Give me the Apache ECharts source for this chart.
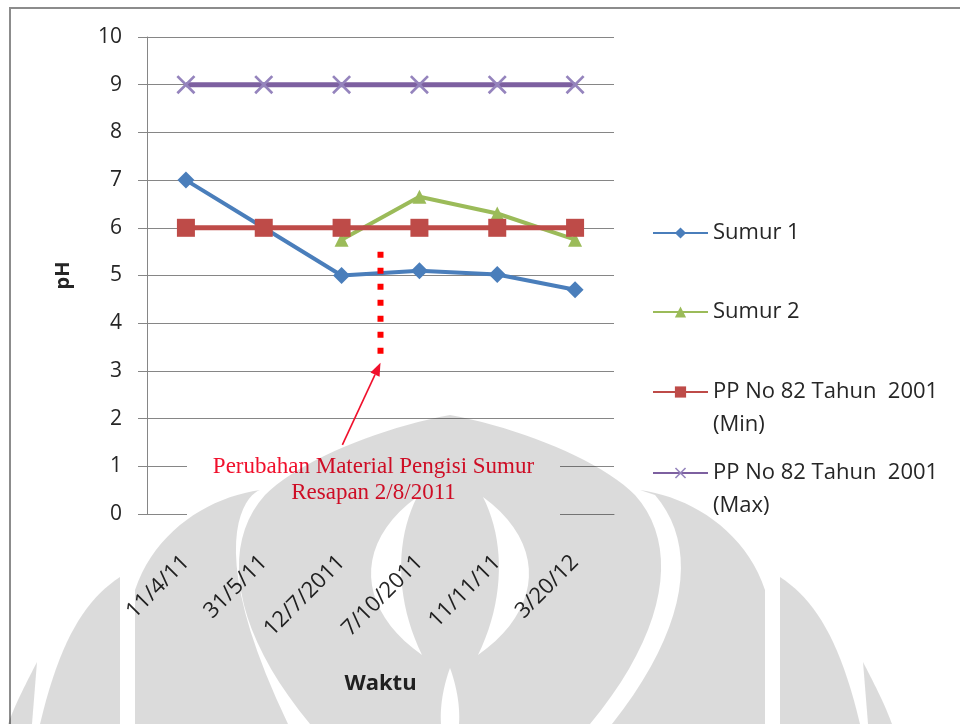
<!DOCTYPE html>
<html>
<head>
<meta charset="utf-8">
<script src="https://cdn.jsdelivr.net/npm/echarts@6/dist/echarts.min.js"></script>
<style>
  html, body { margin: 0; padding: 0; background: #ffffff; }
  #chart { width: 960px; height: 724px; }
</style>
</head>
<body>
<div id="chart"></div>
<script>
// Sampling dates (x axis categories)
const categories = ['11/4/11', '31/5/11', '12/7/2011', '7/10/2011', '11/11/11', '3/20/12'];

// pH readings per well
const sumur1 = [7.0, 6.0, 5.0, 5.1, 5.02, 4.7];
const sumur2 = [null, null, 5.75, 6.65, 6.3, 5.75];

// Regulation PP No 82 Tahun 2001 limits
const ppMin = [6, 6, 6, 6, 6, 6];
const ppMax = [9, 9, 9, 9, 9, 9];

// Value axis range and step
const yRange = { min: 0, max: 10, interval: 1 };

const seriesNames = [
  'Sumur 1',
  'Sumur 2',
  'PP No 82 Tahun  2001\n(Min)',
  'PP No 82 Tahun  2001\n(Max)'
];

// Note about the change of filling material (2/8/2011, between the 3rd and 4th visits)
const noteLines = ['Perubahan Material Pengisi Sumur', 'Resapan 2/8/2011'];
const noteMarker = { between: [2, 3], top: 5.5, bottom: 3.3 };
const noteArrow = { tail: [2.01, 1.45], head: [2.5, 3.17] };

const FONT = '"Open Sans", Lato, sans-serif';
const SERIF = '"Liberation Serif", "Times New Roman", serif';
const TXT = '#262626';
const AX = '#868686';
const NOTE_RED = '#f0102c';

const xCross = 'path://M0,1 L1,0 L10,9 L9,10 Z M9,0 L10,1 L1,10 L0,9 Z';

const chart = echarts.init(document.getElementById('chart'), null, { renderer: 'canvas' });

// one legend block per series so each row sits at its own height;
// two-line names get an empty leading line so the first line lines up with the icon
function legendFor(name, iconY, twoLines) {
  const lh = 33;
  const blockH = twoLines ? lh * 3 : lh;
  return {
    data: [name],
    orient: 'vertical',
    left: 652,
    top: iconY - blockH / 2,
    padding: 0,
    itemWidth: 55,
    itemHeight: 14,
    selectedMode: false,
    formatter: twoLines ? (n) => '\n' + n : '{name}',
    textStyle: {
      fontFamily: FONT,
      fontSize: 22,
      color: TXT,
      lineHeight: lh
    }
  };
}

const option = {
  backgroundColor: '#ffffff',
  animation: false,
  grid: { left: 147, right: 346, top: 37, bottom: 210, containLabel: false },
  legend: [
    legendFor(seriesNames[0], 233, false),
    legendFor(seriesNames[1], 312, false),
    legendFor(seriesNames[2], 392, true),
    legendFor(seriesNames[3], 473, true)
  ],
  xAxis: {
    type: 'category',
    data: categories,
    boundaryGap: true,
    name: 'Waktu',
    nameLocation: 'middle',
    nameGap: 159,
    nameTextStyle: { fontFamily: FONT, fontSize: 22, fontWeight: 'bold', color: TXT },
    axisLine: { show: true, lineStyle: { color: AX, width: 1 } },
    axisTick: { show: false },
    axisLabel: { rotate: 45, margin: 45, fontFamily: FONT, fontSize: 22, color: TXT, interval: 0 },
    splitLine: { show: false }
  },
  yAxis: {
    type: 'value',
    min: yRange.min,
    max: yRange.max,
    interval: yRange.interval,
    name: 'pH',
    nameLocation: 'middle',
    nameGap: 74,
    nameTextStyle: { fontFamily: FONT, fontSize: 20, fontWeight: 'bold', color: TXT },
    axisLine: { show: true, lineStyle: { color: AX, width: 1 } },
    axisTick: { show: true, inside: false, length: 9, lineStyle: { color: AX, width: 1 } },
    axisLabel: { margin: 25, fontFamily: FONT, fontSize: 21, color: TXT },
    splitLine: { show: true, lineStyle: { color: AX, width: 1 } }
  },
  series: [
    {
      name: seriesNames[0],
      type: 'line',
      data: sumur1,
      symbol: 'diamond',
      symbolSize: 17,
      lineStyle: { color: '#4a7ebb', width: 4 },
      itemStyle: { color: '#4a7ebb' },
      z: 2
    },
    {
      name: seriesNames[1],
      type: 'line',
      data: sumur2,
      connectNulls: false,
      symbol: 'triangle',
      symbolSize: 14,
      lineStyle: { color: '#9bbb59', width: 4 },
      itemStyle: { color: '#9bbb59' },
      z: 3
    },
    {
      name: seriesNames[2],
      type: 'line',
      data: ppMin,
      symbol: 'rect',
      symbolSize: 18,
      lineStyle: { color: '#be4b48', width: 5 },
      itemStyle: { color: '#be4b48' },
      z: 4
    },
    {
      name: seriesNames[3],
      type: 'line',
      data: ppMax,
      symbol: xCross,
      symbolSize: 19,
      lineStyle: { color: '#7d60a0', width: 5 },
      itemStyle: { color: '#9584bd' },
      z: 5
    }
  ]
};

chart.setOption(option);

// Pixel helpers on the chart's own scales
function px(catIndex, value) {
  const i0 = Math.floor(catIndex);
  const i1 = Math.min(i0 + 1, categories.length - 1);
  const p0 = chart.convertToPixel({ xAxisIndex: 0, yAxisIndex: 0 }, [i0, value]);
  const p1 = chart.convertToPixel({ xAxisIndex: 0, yAxisIndex: 0 }, [i1, value]);
  const t = catIndex - i0;
  return [p0[0] + (p1[0] - p0[0]) * t, p0[1]];
}

const midCat = (noteMarker.between[0] + noteMarker.between[1]) / 2;
const lineTop = px(midCat, noteMarker.top);
const lineBot = px(midCat, noteMarker.bottom);
const aTail = px(noteArrow.tail[0], noteArrow.tail[1]);
const aHead = px(noteArrow.head[0], noteArrow.head[1]);

// arrowhead triangle
const ang = Math.atan2(aHead[1] - aTail[1], aHead[0] - aTail[0]);
const hl = 13, hw = 5;
const bx = aHead[0] - hl * Math.cos(ang), by = aHead[1] - hl * Math.sin(ang);
const headPts = [
  aHead,
  [bx + hw * Math.sin(ang), by - hw * Math.cos(ang)],
  [bx - hw * Math.sin(ang), by + hw * Math.cos(ang)]
];

// Makara watermark outline (page pixels), flattened into polygons below
const domeOuter = 'M450,415 C520,428 600,460 635,495 C680,545 668,630 590,724 L310,724 C232,630 220,545 265,495 C300,460 380,428 450,415 Z';
const domeHoles = [
  'M483,497 C505,540 505,600 478,655 C542,610 548,545 483,497 Z',
  'M417,497 C352,545 358,610 422,655 C395,600 395,540 417,497 Z',
  'M450,668 C442,690 440,710 441,724 L459,724 C460,710 458,690 450,668 Z'
];
const petals = [
  'M640,490 C690,497 745,530 765,590 L765,724 L612,724 C690,625 698,545 655,495 Z',
  'M260,490 C245,495 202,545 288,724 L135,724 L135,590 C155,530 210,497 260,490 Z',
  'M780,577 C815,600 840,640 860,724 L780,724 Z',
  'M120,577 L120,724 L40,724 C60,640 85,600 120,577 Z',
  'M863,662 C875,685 885,705 892,724 L868,724 Z',
  'M37,662 L32,724 L8,724 C15,705 25,685 37,662 Z'
];

function flatten(d) {
  const tok = d.match(/[MCLZ]|-?\d+(?:\.\d+)?/g);
  const pts = [];
  let cmd = null, cur = null, i = 0;
  while (i < tok.length) {
    const t = tok[i];
    if (/[MCLZ]/.test(t)) { cmd = t; i++; continue; }
    if (cmd === 'M' || cmd === 'L') {
      cur = [+tok[i], +tok[i + 1]];
      pts.push(cur);
      i += 2;
    } else if (cmd === 'C') {
      const c1 = [+tok[i], +tok[i + 1]], c2 = [+tok[i + 2], +tok[i + 3]], e = [+tok[i + 4], +tok[i + 5]];
      for (let k = 1; k <= 20; k++) {
        const s = k / 20, u = 1 - s;
        pts.push([
          u * u * u * cur[0] + 3 * u * u * s * c1[0] + 3 * u * s * s * c2[0] + s * s * s * e[0],
          u * u * u * cur[1] + 3 * u * u * s * c1[1] + 3 * u * s * s * c2[1] + s * s * s * e[1]
        ]);
      }
      cur = e;
      i += 6;
    } else {
      i++;
    }
  }
  return pts;
}

// dome with its openings cut in (keyhole joins, holes run the opposite way)
const dome = flatten(domeOuter);
const domePts = dome.slice();
domeHoles.forEach((h) => {
  const hp = flatten(h);
  domePts.push(...hp, hp[0], dome[0]);
});

const WM = 'rgba(0,0,0,0.14)';
const watermarkEls = [domePts].concat(petals.map(flatten)).map((pts) => ({
  type: 'polygon',
  z: 50,
  shape: { points: pts },
  style: { fill: WM },
  silent: true
}));

chart.setOption({
  graphic: [
    {
      type: 'rect',
      z: 1,
      shape: { x: 10, y: 8, width: 1000, height: 800 },
      style: { fill: 'none', stroke: '#8c8c8c', lineWidth: 2 },
      silent: true
    },
    {
      type: 'rect',
      z: 6,
      shape: { x: 187, y: 445, width: 373, height: 77 },
      style: { fill: '#ffffff' },
      silent: true
    },
    {
      type: 'text',
      z: 7,
      x: lineTop[0] - 7,
      y: 467,
      style: {
        text: noteLines[0],
        fontFamily: SERIF,
        fontSize: 23,
        fill: NOTE_RED,
        align: 'center',
        verticalAlign: 'middle'
      },
      silent: true
    },
    {
      type: 'text',
      z: 7,
      x: lineTop[0] - 7,
      y: 493,
      style: {
        text: noteLines[1],
        fontFamily: SERIF,
        fontSize: 23,
        fill: NOTE_RED,
        align: 'center',
        verticalAlign: 'middle'
      },
      silent: true
    },
    {
      type: 'line',
      z: 7,
      shape: { x1: lineTop[0], y1: lineTop[1], x2: lineBot[0], y2: lineBot[1] },
      style: { stroke: '#ff0000', lineWidth: 6, lineDash: [6, 10] },
      silent: true
    },
    {
      type: 'line',
      z: 7,
      shape: { x1: aTail[0], y1: aTail[1], x2: bx, y2: by },
      style: { stroke: NOTE_RED, lineWidth: 1.6 },
      silent: true
    },
    {
      type: 'polygon',
      z: 7,
      shape: { points: headPts },
      style: { fill: NOTE_RED },
      silent: true
    }
  ].concat(watermarkEls)
});
</script>
</body>
</html>
